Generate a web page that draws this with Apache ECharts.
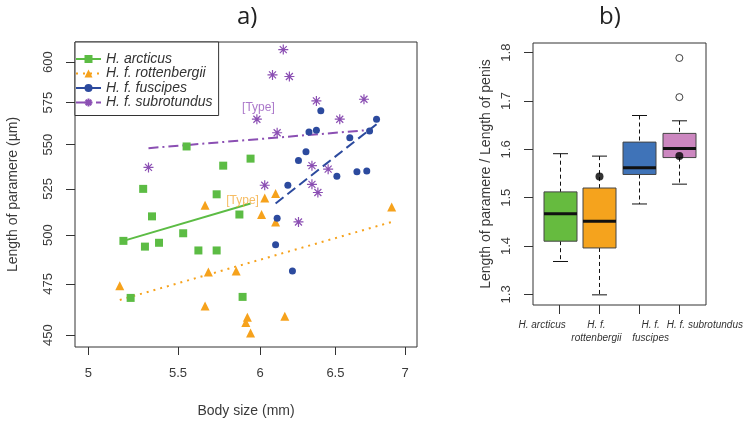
<!DOCTYPE html>
<html>
<head>
<meta charset="utf-8">
<script src="https://cdn.jsdelivr.net/npm/echarts@6/dist/echarts.min.js"></script>
<style>html,body{margin:0;padding:0;background:#fff}#c{width:756px;height:427px}</style>
</head>
<body>
<div id="c"></div>
<script>
// ---------- Panel a) data ----------
const speciesNames = ['H. arcticus', 'H. f. rottenbergii', 'H. f. fuscipes', 'H. f. subrotundus'];

const arcticusX = [5.55, 5.94, 5.77, 5.30, 5.73, 5.35, 5.87, 5.19, 5.31, 5.39, 5.53, 5.62, 5.73, 5.23, 5.89];
const arcticusY = [549, 542, 538, 525, 522, 510, 511, 497, 494, 496, 501, 492, 492, 468, 468.5];

const rottenbergiiX = [5.66, 6.01, 5.17, 5.68, 5.85, 5.66, 5.92, 5.91, 5.94, 6.10, 6.03, 6.10, 6.90, 6.16];
const rottenbergiiY = [516, 511, 474, 481, 481.5, 464, 458.5, 456, 451, 507, 520, 522.5, 515, 459];

const fuscipesX = [6.11, 6.10, 6.40, 6.79, 6.32, 6.37, 6.60, 6.74, 6.30, 6.25, 6.51, 6.65, 6.72, 6.18, 6.21];
const fuscipesY = [509, 495, 570, 565, 557.5, 558.5, 554, 558, 546, 541, 532, 534.5, 535, 527, 481.5];

const subrotundusX = [5.33, 6.15, 6.08, 6.19, 6.37, 6.70, 5.98, 6.53, 6.11, 6.34, 6.45, 6.03, 6.34, 6.38, 6.25];
const subrotundusY = [537, 608, 592, 591, 576, 577, 565, 565, 557, 538, 536, 527, 527.5, 523, 507];

// regression line end points
const arcticusLineX = [5.19, 5.94];      const arcticusLineY = [497, 517];
const rottenbergiiLineX = [5.17, 6.90];  const rottenbergiiLineY = [467, 507];
const fuscipesLineX = [6.10, 6.79];      const fuscipesLineY = [517, 562];
const subrotundusLineX = [5.33, 6.72];   const subrotundusLineY = [548, 558.5];

// "[Type]" annotations
const typeLabelX = [5.89, 5.99];
const typeLabelY = [518.5, 572];

// axis ticks (log-scaled axes)
const xTicksA = [5, 5.5, 6, 6.5, 7];
const yTicksA = [450, 475, 500, 525, 550, 575, 600];
const xRangeA = [4.93, 7.088];
const yRangeA = [444.4, 612.9];

// ---------- Panel b) data ----------
const boxCategories = ['H. arcticus', 'H. f.\nrottenbergii', 'H. f.\nfuscipes', 'H. f. subrotundus'];
// [lower whisker, Q1, median, Q3, upper whisker]
const boxStats = [
  [1.368, 1.410, 1.467, 1.512, 1.591],
  [1.299, 1.396, 1.451, 1.520, 1.586],
  [1.487, 1.548, 1.562, 1.615, 1.670],
  [1.528, 1.583, 1.602, 1.633, 1.659]
];
const outlierCat = [4, 4];
const outlierVal = [1.789, 1.708];
const typeCat = [2, 4];
const typeVal = [1.544, 1.586];
const yTicksB = [1.3, 1.4, 1.5, 1.6, 1.7, 1.8];
const yRangeB = [1.278, 1.82];
const xRangeB = [0.335, 4.667];

// ---------- styles ----------
const colors = ['#5cbc44', '#f6a21c', '#2c4a9e', '#8b4fb3'];
const boxColors = ['#66bb3f', '#f5a31d', '#3f73b8', '#cc87c0'];
const symbols = ['rect', 'triangle', 'circle',
  'path://M5,0L5,10M0,5L10,5M1.5,1.5L8.5,8.5M8.5,1.5L1.5,8.5'];
const symbolSizes = [8, 9, 7, 10];
const lineTypes = ['solid', [2, 5], [10, 5], [10, 4, 2, 4]];

const L = Math.log10;
const pts = (xs, ys) => xs.map((x, i) => [L(x), L(ys[i])]);
const fmt1 = v => String(Math.round(Math.pow(10, v) * 10) / 10);
const fmt0 = v => String(Math.round(Math.pow(10, v)));

const scatterSets = [
  [arcticusX, arcticusY], [rottenbergiiX, rottenbergiiY],
  [fuscipesX, fuscipesY], [subrotundusX, subrotundusY]
];
const lineSets = [
  [arcticusLineX, arcticusLineY], [rottenbergiiLineX, rottenbergiiLineY],
  [fuscipesLineX, fuscipesLineY], [subrotundusLineX, subrotundusLineY]
];

const series = [];
speciesNames.forEach((name, i) => {
  const isStar = i === 3;
  series.push({
    type: 'line', name, xAxisIndex: 0, yAxisIndex: 0,
    data: pts(lineSets[i][0], lineSets[i][1]),
    symbol: symbols[i], showSymbol: false, symbolSize: symbolSizes[i],
    lineStyle: { color: colors[i], width: 2, type: lineTypes[i] },
    itemStyle: { color: isStar ? 'rgba(0,0,0,0)' : colors[i], borderColor: colors[i], borderWidth: isStar ? 1 : 0 },
    silent: true, z: 3
  });
});
speciesNames.forEach((name, i) => {
  const isStar = i === 3;
  series.push({
    type: 'scatter', name, xAxisIndex: 0, yAxisIndex: 0,
    data: pts(scatterSets[i][0], scatterSets[i][1]),
    symbol: symbols[i], symbolSize: symbolSizes[i],
    itemStyle: { color: isStar ? 'rgba(0,0,0,0)' : colors[i], borderColor: colors[i], borderWidth: isStar ? 1.2 : 0, opacity: 1 },
    z: 4
  });
});
// [Type] annotations
series.push({
  type: 'scatter', name: 'typeLabels', xAxisIndex: 0, yAxisIndex: 0,
  symbolSize: 0,
  data: typeLabelX.map((x, i) => ({
    value: [L(x), L(typeLabelY[i])],
    label: { color: i === 0 ? '#f4ab3c' : '#9656bd' }
  })),
  label: { show: true, position: 'inside', formatter: '[Type]', fontSize: 12, fontFamily: 'Liberation Sans' },
  silent: true, z: 5
});

// boxplot (custom)
series.push({
  type: 'custom', name: 'box', xAxisIndex: 1, yAxisIndex: 1,
  data: boxStats.map((s, i) => ({ value: [i + 1].concat(s), itemStyle: { color: boxColors[i] } })),
  encode: { x: 0, y: [1, 2, 3, 4, 5] },
  renderItem: function (params, api) {
    const x = api.value(0);
    const lo = api.coord([x, api.value(1)]);
    const q1 = api.coord([x, api.value(2)]);
    const md = api.coord([x, api.value(3)]);
    const q3 = api.coord([x, api.value(4)]);
    const hi = api.coord([x, api.value(5)]);
    const cx = Math.round(lo[0]) + 0.5;
    const hw = 16.5, cw = 7.5;
    const dash = { stroke: '#111', lineWidth: 1, lineDash: [4, 3] };
    const solid = { stroke: '#111', lineWidth: 1 };
    return {
      type: 'group', children: [
        { type: 'line', shape: { x1: cx, y1: hi[1], x2: cx, y2: q3[1] }, style: dash },
        { type: 'line', shape: { x1: cx, y1: q1[1], x2: cx, y2: lo[1] }, style: dash },
        { type: 'line', shape: { x1: cx - cw, y1: hi[1], x2: cx + cw, y2: hi[1] }, style: solid },
        { type: 'line', shape: { x1: cx - cw, y1: lo[1], x2: cx + cw, y2: lo[1] }, style: solid },
        { type: 'rect', shape: { x: cx - hw, y: q3[1], width: 2 * hw, height: q1[1] - q3[1] },
          style: { fill: api.visual('color'), stroke: '#444', lineWidth: 1 } },
        { type: 'line', shape: { x1: cx - hw, y1: md[1], x2: cx + hw, y2: md[1] }, style: { stroke: '#111', lineWidth: 3 } }
      ]
    };
  },
  silent: true, z: 3
});
series.push({
  type: 'scatter', name: 'outliers', xAxisIndex: 1, yAxisIndex: 1,
  data: outlierCat.map((c, i) => [c, outlierVal[i]]),
  symbol: 'circle', symbolSize: 7,
  itemStyle: { color: '#fff', borderColor: '#111', borderWidth: 1 }, z: 5, silent: true
});
series.push({
  type: 'scatter', name: 'typeSpecimens', xAxisIndex: 1, yAxisIndex: 1,
  data: typeCat.map((c, i) => [c, typeVal[i]]),
  symbol: 'circle', symbolSize: 8,
  itemStyle: { color: '#000' }, z: 6, silent: true
});

const axisText = { color: '#3a3a3a', fontSize: 13, fontFamily: 'Liberation Sans' };

const option = {
  animation: false,
  backgroundColor: '#fff',
  title: [
    { text: 'a)', left: 232, top: 0, textStyle: { fontSize: 24, fontWeight: 'normal', color: '#222', fontFamily: 'Open Sans' } },
    { text: 'b)', left: 594, top: 0, textStyle: { fontSize: 24, fontWeight: 'normal', color: '#222', fontFamily: 'Open Sans' } }
  ],
  legend: {
    data: speciesNames,
    orient: 'vertical', left: 75, top: 42,
    padding: [10, 6, 6, 0],
    itemWidth: 25, itemHeight: 10, itemGap: 0.5, itemTextGap: 12,
    backgroundColor: '#fff', borderColor: '#333', borderWidth: 1,
    textStyle: { fontSize: 14, fontStyle: 'italic', color: '#333', fontFamily: 'Liberation Sans', lineHeight: 13 },
    selectedMode: false, z: 10
  },
  grid: [
    { left: 75, top: 42, right: 339, bottom: 80, show: true, borderColor: '#333', borderWidth: 1, backgroundColor: 'transparent', containLabel: false },
    { left: 533, top: 43, right: 50, bottom: 122, show: true, borderColor: '#333', borderWidth: 1, backgroundColor: 'transparent' },
    { left: 515, top: 43, right: 24, bottom: 122, show: false }
  ],
  xAxis: [
    {
      gridIndex: 0, type: 'value', min: L(xRangeA[0]), max: L(xRangeA[1]),
      name: 'Body size (mm)', nameLocation: 'middle', nameGap: 57,
      nameTextStyle: { fontSize: 14, color: '#3a3a3a', fontFamily: 'Liberation Sans' },
      axisLine: { show: false }, splitLine: { show: false },
      axisTick: { show: true, length: 8, customValues: xTicksA.map(L), lineStyle: { color: '#333' } },
      axisLabel: Object.assign({ customValues: xTicksA.map(L), formatter: fmt1, margin: 20 }, axisText)
    },
    {
      gridIndex: 1, type: 'value', min: xRangeB[0], max: xRangeB[1],
      axisLine: { show: false }, splitLine: { show: false },
      axisTick: { show: true, length: 9, customValues: [1, 2, 3, 4], lineStyle: { color: '#333' } },
      axisLabel: { show: false }
    },
    {
      gridIndex: 2, type: 'category', data: boxCategories,
      axisLine: { show: false }, axisTick: { show: false }, splitLine: { show: false },
      axisLabel: { interval: 0, margin: 14, fontSize: 10, fontStyle: 'italic', color: '#333', lineHeight: 13, fontFamily: 'Liberation Sans' }
    }
  ],
  yAxis: [
    {
      gridIndex: 0, type: 'value', min: L(yRangeA[0]), max: L(yRangeA[1]),
      name: 'Length of paramere (µm)', nameLocation: 'middle', nameGap: 55,
      nameTextStyle: { fontSize: 14, color: '#3a3a3a', fontFamily: 'Liberation Sans' },
      axisLine: { show: false }, splitLine: { show: false },
      axisTick: { show: true, length: 9, customValues: yTicksA.map(L), lineStyle: { color: '#333' } },
      axisLabel: Object.assign({ customValues: yTicksA.map(L), formatter: fmt0, rotate: 90, margin: 20 }, axisText)
    },
    {
      gridIndex: 1, type: 'value', min: yRangeB[0], max: yRangeB[1],
      name: 'Length of paramere / Length of penis', nameLocation: 'middle', nameGap: 40,
      nameTextStyle: { fontSize: 14, color: '#3a3a3a', fontFamily: 'Liberation Sans' },
      axisLine: { show: false }, splitLine: { show: false },
      axisTick: { show: true, length: 9, customValues: yTicksB, lineStyle: { color: '#333' } },
      axisLabel: Object.assign({ customValues: yTicksB, formatter: v => v.toFixed(1), rotate: 90, margin: 20 }, axisText)
    },
    { gridIndex: 2, type: 'value', show: false }
  ],
  series
};

const chart = echarts.init(document.getElementById('c'), null, { renderer: 'canvas' });
chart.setOption(option);
</script>
</body>
</html>
